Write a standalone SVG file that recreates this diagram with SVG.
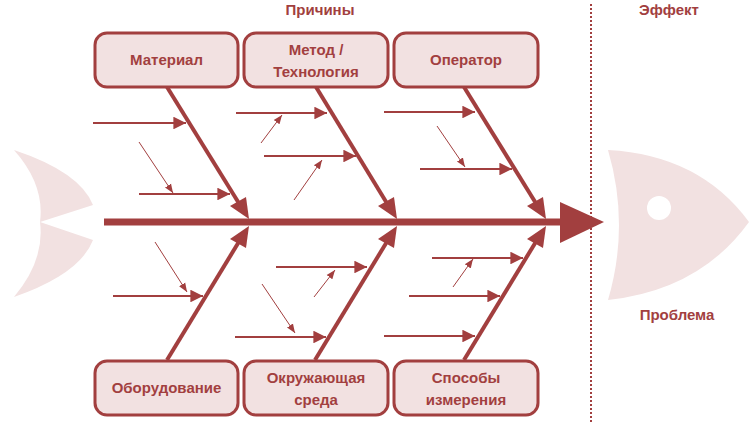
<svg xmlns="http://www.w3.org/2000/svg" width="750" height="424" viewBox="0 0 750 424">
<style>
.box{fill:#f2e1e1;stroke:#a23f3f;stroke-width:3}
.t{font-family:"Liberation Sans Narrow","Liberation Sans",Arial,sans-serif;font-weight:bold;font-size:15px;fill:#a23f3f;text-anchor:middle}
.bone{stroke:#a23f3f;stroke-width:4;fill:none}
.sm{stroke:#a23f3f;stroke-width:1.8;fill:none;marker-end:url(#ah)}
.dg{stroke:#a23f3f;stroke-width:1;fill:none;marker-end:url(#ah2)}
</style>
<defs>
<marker id="ah" viewBox="0 0 10 10" refX="10" refY="5" markerWidth="7" markerHeight="7" markerUnits="strokeWidth" orient="auto"><path d="M0,0L10,5L0,10z" fill="#a23f3f"/></marker>
<marker id="ah2" viewBox="0 0 10 10" refX="10" refY="5" markerWidth="9" markerHeight="9" markerUnits="strokeWidth" orient="auto"><path d="M0,1L10,5L0,9z" fill="#a23f3f"/></marker>
</defs>
<rect width="750" height="424" fill="#fff"/>
<g id="tail"><path d="M14,150 Q80,172 93,205 L40,222 L93,240 Q80,274 14,297 Q45,260 40,222 Q45,185 14,150 Z" fill="#f2e1e1"/></g>
<g id="head"><path d="M608,150 Q700,155 749,222 Q700,290 608,300 Q630,225 608,150 Z" fill="#f2e1e1"/><circle cx="659" cy="208" r="12" fill="#fff"/></g>
<line x1="591" y1="4" x2="591" y2="424" stroke="#a23f3f" stroke-width="2" stroke-dasharray="2,2"/>
<text class="t" x="320" y="15">Причины</text>
<text class="t" x="669" y="15">Эффект</text>
<text class="t" x="677" y="320">Проблема</text>
<g id="connectors">
<line x1="104" y1="222" x2="565" y2="222" stroke="#a23f3f" stroke-width="7"/>
<path d="M560,202 L604,222 L560,243 Z" fill="#a23f3f"/>
<g class="bones">
<line class="bone" x1="167" y1="87" x2="240" y2="205"/><path d="M249,219 L230,206 L246,197 Z" fill="#a23f3f"/>
<line class="bone" x1="316" y1="87" x2="388" y2="205"/><path d="M397,219 L378,206 L394,197 Z" fill="#a23f3f"/>
<line class="bone" x1="464" y1="87" x2="537" y2="205"/><path d="M546,219 L527,206 L543,197 Z" fill="#a23f3f"/>
<line class="bone" x1="167" y1="360" x2="240" y2="240"/><path d="M249,226 L230,239 L246,248 Z" fill="#a23f3f"/>
<line class="bone" x1="315" y1="360" x2="388" y2="240"/><path d="M397,226 L378,239 L394,248 Z" fill="#a23f3f"/>
<line class="bone" x1="464" y1="360" x2="537" y2="240"/><path d="M546,226 L527,239 L543,248 Z" fill="#a23f3f"/>
</g>
<line class="sm" x1="93" y1="123" x2="186" y2="123"/>
<line class="dg" x1="139" y1="142" x2="173" y2="193"/>
<line class="sm" x1="139" y1="194" x2="230" y2="194"/>
<line class="sm" x1="236" y1="113" x2="327" y2="113"/>
<line class="dg" x1="261" y1="143" x2="282" y2="115"/>
<line class="sm" x1="264" y1="156" x2="356" y2="156"/>
<line class="dg" x1="294" y1="200" x2="322" y2="160"/>
<line class="sm" x1="384" y1="112" x2="475" y2="112"/>
<line class="dg" x1="437" y1="126" x2="465" y2="167"/>
<line class="sm" x1="420" y1="169" x2="512" y2="169"/>
<line class="dg" x1="155" y1="242" x2="187" y2="292"/>
<line class="sm" x1="113" y1="296" x2="203" y2="296"/>
<line class="sm" x1="276" y1="267" x2="367" y2="267"/>
<line class="dg" x1="314" y1="297" x2="335" y2="270"/>
<line class="dg" x1="262" y1="284" x2="295" y2="333"/>
<line class="sm" x1="235" y1="337" x2="326" y2="337"/>
<line class="sm" x1="432" y1="258" x2="523" y2="258"/>
<line class="dg" x1="453" y1="287" x2="473" y2="259"/>
<line class="sm" x1="409" y1="296" x2="500" y2="296"/>
<line class="sm" x1="384" y1="336" x2="475" y2="336"/>
</g>
<g id="n1"><rect class="box" x="95" y="33" width="143" height="54" rx="12"/><text class="t" x="166.5" y="65">Материал</text></g>
<g id="n2"><rect class="box" x="244" y="33" width="144" height="54" rx="12"/><text class="t" x="316" y="55">Метод /</text><text class="t" x="316" y="77">Технология</text></g>
<g id="n3"><rect class="box" x="394" y="33" width="144" height="54" rx="12"/><text class="t" x="466" y="65">Оператор</text></g>
<g id="n4"><rect class="box" x="95" y="361" width="143" height="54" rx="12"/><text class="t" x="166.5" y="393">Оборудование</text></g>
<g id="n5"><rect class="box" x="244" y="361" width="144" height="54" rx="12"/><text class="t" x="316" y="383">Окружающая</text><text class="t" x="316" y="405">среда</text></g>
<g id="n6"><rect class="box" x="394" y="361" width="144" height="54" rx="12"/><text class="t" x="466" y="383">Способы</text><text class="t" x="466" y="405">измерения</text></g>
</svg>
